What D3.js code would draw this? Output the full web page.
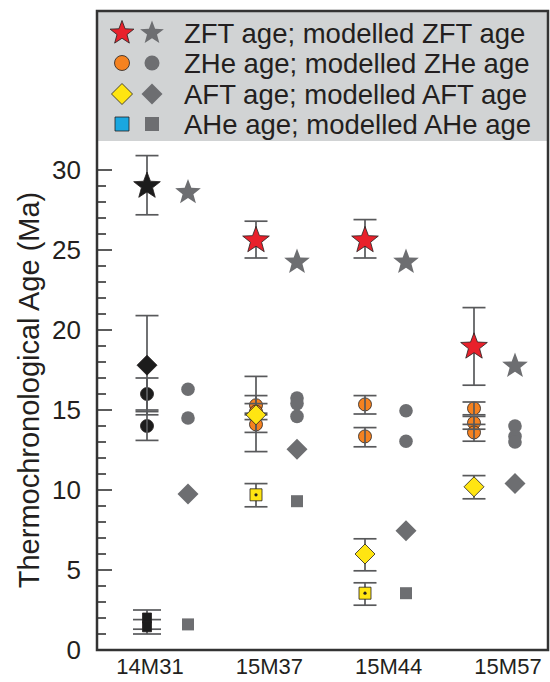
<!DOCTYPE html>
<html><head><meta charset="utf-8">
<script src="https://cdn.jsdelivr.net/npm/d3@7"></script>
<style>html,body{margin:0;padding:0;background:#fff;}svg{display:block;font-family:"Liberation Sans",Arial,sans-serif;}</style>
</head><body>
<svg id="chart" width="550" height="682"></svg>
<script>
const samples = ["14M31", "15M37", "15M44", "15M57"];
const yTicks = [0, 5, 10, 15, 20, 25, 30];
const yTitle = "Thermochronological Age (Ma)";
const legendLabels = ["ZFT age; modelled ZFT age", "ZHe age; modelled ZHe age", "AFT age; modelled AFT age", "AHe age; modelled AHe age"];
// measured: [sample, age, upper, lower]
const zftObs = [["14M31", 29.0, 30.9, 27.2], ["15M37", 25.6, 26.8, 24.5], ["15M44", 25.6, 26.9, 24.5], ["15M57", 18.95, 21.4, 16.55]];
const zheObs = [["14M31", 16.0, 17.0, 15.0], ["14M31", 14.0, 14.9, 13.1],
  ["15M37", 15.3, 15.9, 14.7], ["15M37", 14.9, 15.4, 14.4], ["15M37", 14.1, 14.8, 13.6],
  ["15M44", 15.35, 15.9, 14.75], ["15M44", 13.35, 13.9, 12.7],
  ["15M57", 15.1, 15.5, 14.7], ["15M57", 14.2, 14.6, 13.8], ["15M57", 13.6, 14.1, 13.05]];
const aftObs = [["14M31", 17.8, 20.9, 14.7], ["15M37", 14.7, 17.1, 12.4], ["15M44", 6.0, 6.95, 4.95], ["15M57", 10.2, 10.9, 9.45]];
const aheObs = [["14M31", 2.0, 2.5, 1.3], ["14M31", 1.45, 1.9, 1.0], ["15M37", 9.7, 10.4, 8.95], ["15M44", 3.55, 4.2, 2.8]];
// modelled: [sample, age]
const zftModel = [["14M31", 28.6], ["15M37", 24.25], ["15M44", 24.25], ["15M57", 17.75]];
const zheModel = [["14M31", 16.3], ["14M31", 14.5], ["15M37", 15.75], ["15M37", 15.4], ["15M37", 14.6],
  ["15M44", 14.95], ["15M44", 13.05], ["15M57", 14.0], ["15M57", 13.35], ["15M57", 13.0]];
const aftModel = [["14M31", 9.75], ["15M37", 12.55], ["15M44", 7.45], ["15M57", 10.4]];
const aheModel = [["14M31", 1.6], ["15M37", 9.3], ["15M44", 3.55]];

const C = {red: "#e8212b", orange: "#f58220", yellow: "#ffe512", blue: "#1aa7e0", grey: "#6d6e71", black: "#1c1c1c", text: "#231f20", err: "#58595b", legendBg: "#d1d3d4", frame: "#333"};

const svg = d3.select("#chart");
const frame = {l: 97, r: 548, t: 11, b: 650};
const y = d3.scaleLinear().domain([0, 30]).range([650, 170]);
const xObs = d3.scalePoint().domain(samples).range([147, 474]);
const modOff = 41;
const xLab = d3.scalePoint().domain(samples).range([150, 508]);

// legend background + frame
svg.append("rect").attr("x", frame.l).attr("y", frame.t).attr("width", frame.r - frame.l).attr("height", 130).attr("fill", C.legendBg);
svg.append("rect").attr("x", frame.l).attr("y", frame.t).attr("width", frame.r - frame.l).attr("height", frame.b - frame.t)
  .attr("fill", "none").attr("stroke", C.frame).attr("stroke-width", 2.5);

// y axis ticks (inward)
const minor = d3.range(0, 31, 1);
svg.append("g").selectAll("line").data(minor).join("line")
  .attr("x1", frame.l).attr("x2", d => frame.l + (d % 5 === 0 ? 15 : 9))
  .attr("y1", d => y(d)).attr("y2", d => y(d)).attr("stroke", C.frame).attr("stroke-width", 1.6);
svg.append("g").selectAll("text").data(yTicks).join("text")
  .attr("x", 81).attr("y", d => y(d)).attr("dy", "0.36em").attr("text-anchor", "end")
  .attr("font-size", 26).attr("fill", C.text).text(d => d);
svg.append("text").attr("transform", "translate(29,390) rotate(-90)").attr("text-anchor", "middle")
  .attr("dy", "0.36em").attr("font-size", 29).attr("fill", C.text).text(yTitle);
// x labels
svg.append("g").selectAll("text").data(samples).join("text")
  .attr("x", d => xLab(d)).attr("y", 666).attr("dy", "0.36em").attr("text-anchor", "middle")
  .attr("font-size", 22).attr("fill", C.text).text(d => d);

const star = (R) => { const r = R * 0.42; let p = []; for (let i = 0; i < 10; i++) { const a = -Math.PI / 2 + i * Math.PI / 5; const rr = i % 2 ? r : R; p.push([rr * Math.cos(a), rr * Math.sin(a)]); } return "M" + p.map(q => q.join(",")).join("L") + "Z"; };
const diamond = (h) => `M0,${-h}L${h},0L0,${h}L${-h},0Z`;
const square = (s) => `M${-s},${-s}H${s}V${s}H${-s}Z`;
const obsFill = (s, col) => s === "14M31" ? C.black : col;

// error bars
const eb = svg.append("g").attr("stroke", C.err).attr("stroke-width", 1.7);
function drawErr(d, capW) {
  const x = xObs(d[0]);
  eb.append("line").attr("x1", x).attr("x2", x).attr("y1", y(d[2])).attr("y2", y(d[3]));
  [d[2], d[3]].forEach(v => eb.append("line").attr("x1", x - capW).attr("x2", x + capW).attr("y1", y(v)).attr("y2", y(v)));
}

const g = svg.append("g");
// modelled markers
g.selectAll(".mzhe").data(zheModel).join("circle").attr("cx", d => xObs(d[0]) + modOff).attr("cy", d => y(d[1])).attr("r", 6.8).attr("fill", C.grey);
g.selectAll(".maft").data(aftModel).join("path").attr("transform", d => `translate(${xObs(d[0]) + modOff},${y(d[1])})`).attr("d", diamond(10.5)).attr("fill", C.grey);
g.selectAll(".mahe").data(aheModel).join("path").attr("transform", d => `translate(${xObs(d[0]) + modOff},${y(d[1])})`).attr("d", square(6)).attr("fill", C.grey);
g.selectAll(".mzft").data(zftModel).join("path").attr("transform", d => `translate(${xObs(d[0]) + modOff},${y(d[1])})`).attr("d", star(13.5)).attr("fill", C.grey);

// measured: circles first, then error bars, then others
const mo = svg.append("g");
mo.selectAll("circle").data(zheObs).join("circle").attr("cx", d => xObs(d[0])).attr("cy", d => y(d[1])).attr("r", 6.5)
  .attr("fill", d => obsFill(d[0], C.orange)).attr("stroke", C.text).attr("stroke-width", 0.8);
svg.node().appendChild(eb.node());
zheObs.forEach(d => drawErr(d, 11.5));
zftObs.forEach(d => drawErr(d, 11.5));
aftObs.forEach(d => drawErr(d, 11.5));
aheObs.forEach(d => drawErr(d, d[0] === "14M31" ? 14 : 11.5));
const mo2 = svg.append("g");
mo2.selectAll(".aft").data(aftObs).join("path").attr("transform", d => `translate(${xObs(d[0])},${y(d[1])})`).attr("d", diamond(10))
  .attr("fill", d => obsFill(d[0], C.yellow)).attr("stroke", C.text).attr("stroke-width", 0.8);
mo2.selectAll(".ahe").data(aheObs).join("path").attr("transform", d => `translate(${xObs(d[0])},${y(d[1])})`)
  .attr("d", d => d[0] === "14M31" ? `M-4.5,-5H4.5V5H-4.5Z` : square(6))
  .attr("fill", d => obsFill(d[0], C.yellow)).attr("stroke", C.text).attr("stroke-width", 0.8);
mo2.selectAll(".dot").data(aheObs.filter(d => d[0] !== "14M31")).join("circle").attr("cx", d => xObs(d[0])).attr("cy", d => y(d[1])).attr("r", 1.6).attr("fill", C.text);
mo2.selectAll(".zft").data(zftObs).join("path").attr("transform", d => `translate(${xObs(d[0])},${y(d[1])})`).attr("d", star(14))
  .attr("fill", d => obsFill(d[0], C.red)).attr("stroke", C.text).attr("stroke-width", 0.8);

// legend
const lg = svg.append("g");
const rowY = [33, 63, 94, 124];
const lx1 = 122, lx2 = 152;
const legendSym = [
  [star(12.5), C.red, star(12.5)],
  ["c", C.orange, "c"],
  [diamond(10.5), C.yellow, diamond(10.5)],
  [square(7), C.blue, square(7)]
];
legendSym.forEach((s, i) => {
  if (s[0] === "c") {
    lg.append("circle").attr("cx", lx1).attr("cy", rowY[i]).attr("r", 7.5).attr("fill", s[1]).attr("stroke", C.text).attr("stroke-width", 0.8);
    lg.append("circle").attr("cx", lx2).attr("cy", rowY[i]).attr("r", 7.5).attr("fill", C.grey);
  } else {
    lg.append("path").attr("transform", `translate(${lx1},${rowY[i]})`).attr("d", s[0]).attr("fill", s[1]).attr("stroke", C.text).attr("stroke-width", 0.8);
    lg.append("path").attr("transform", `translate(${lx2},${rowY[i]})`).attr("d", s[2]).attr("fill", C.grey);
  }
  lg.append("text").attr("x", 184).attr("y", rowY[i]).attr("dy", "0.36em").attr("font-size", 27.5).attr("fill", C.text).text(legendLabels[i]);
});
</script>
</body></html>
